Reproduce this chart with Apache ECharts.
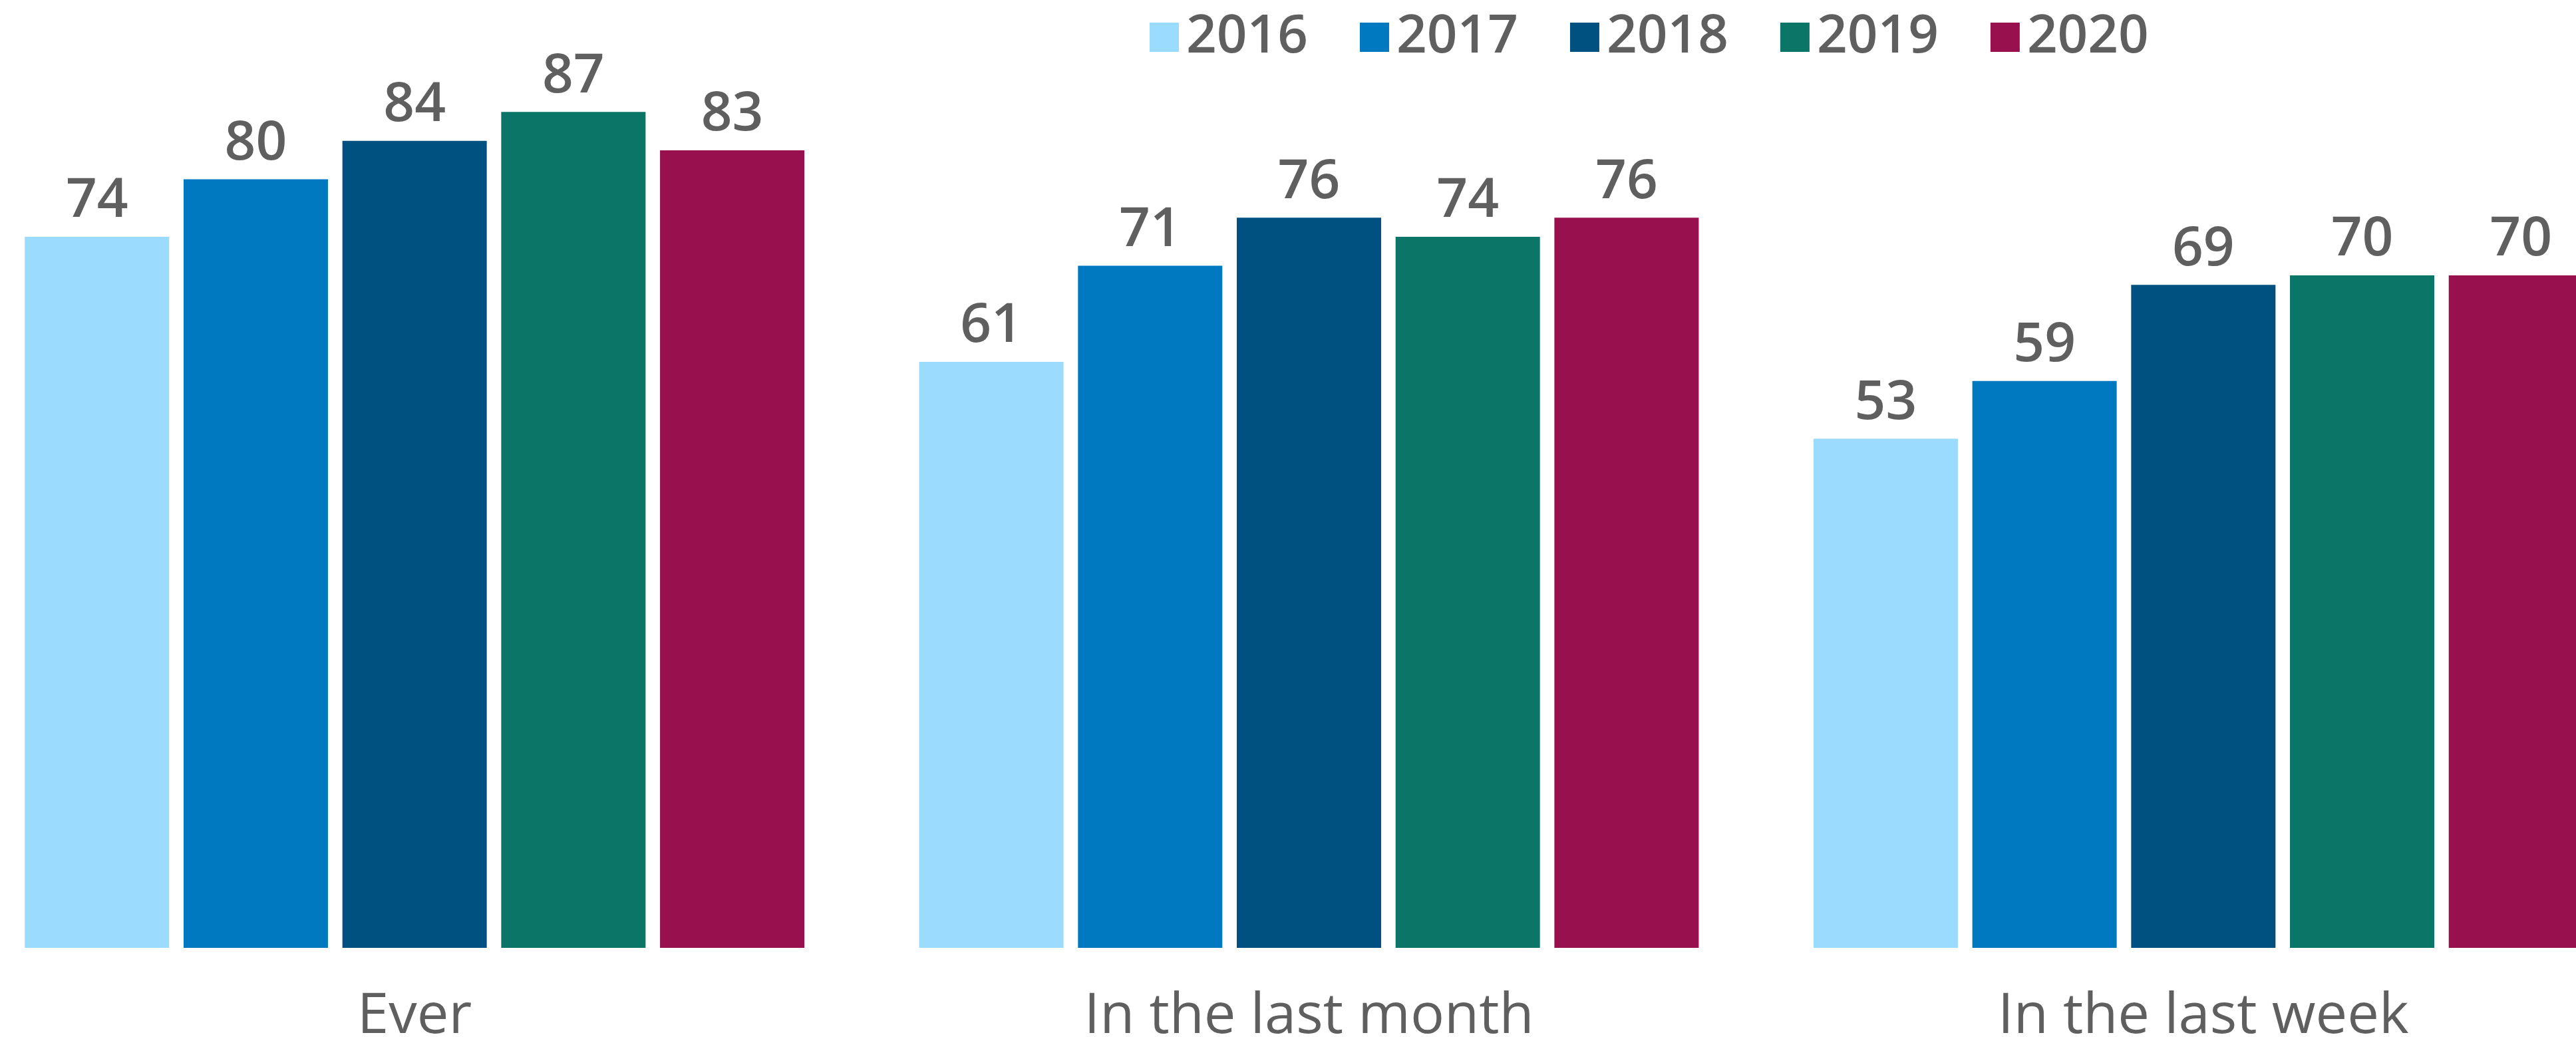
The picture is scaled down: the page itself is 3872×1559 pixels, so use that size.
<!DOCTYPE html>
<html>
<head>
<meta charset="utf-8">
<script src="https://cdn.jsdelivr.net/npm/echarts@6/dist/echarts.min.js"></script>
<style>html,body{margin:0;padding:0;background:#fff;overflow:hidden;width:3872px;height:1559px;}#c{position:absolute;left:-49px;top:0;width:4033px;height:1559px;}</style>
</head>
<body>
<div id="c"></div>
<script>
const categories = ["Ever", "In the last month", "In the last week"];
const years = ["2016", "2017", "2018", "2019", "2020"];
const v2016 = [74, 61, 53];
const v2017 = [80, 71, 59];
const v2018 = [84, 76, 69];
const v2019 = [87, 74, 70];
const v2020 = [83, 76, 70];
const seriesValues = [v2016, v2017, v2018, v2019, v2020];
const colors = ["#9BDBFD", "#0079C1", "#00517F", "#0B7567", "#99104F"];

const textColor = "#5F5F5F";
const fontFam = "'Open Sans', 'Noto Sans', sans-serif";

const chart = echarts.init(document.getElementById('c'), null, {renderer: 'canvas'});
chart.setOption({
  animation: false,
  backgroundColor: '#ffffff',
  legend: {
    data: years,
    left: 1777,
    top: 16,
    padding: 0,
    itemWidth: 44,
    itemHeight: 44,
    itemGap: 78,
    icon: 'rect',
    textStyle: {color: textColor, fontSize: 80, fontWeight: 600, fontFamily: fontFam, lineHeight: 80, padding: [0, 0, 0, 6]}
  },
  grid: {left: 0, right: 0, top: 125, bottom: 134, containLabel: false, outerBoundsMode: 'none'},
  xAxis: {
    type: 'category',
    data: categories,
    axisLine: {show: false},
    axisTick: {show: false},
    axisLabel: {color: textColor, fontSize: 85, fontFamily: fontFam, margin: 61, fontWeight: 400}
  },
  yAxis: {
    type: 'value', min: 0, max: 90, show: false,
    splitLine: {show: false}
  },
  series: years.map((y, i) => ({
    name: y,
    type: 'bar',
    data: seriesValues[i],
    barWidth: 217,
    barGap: '10%',
    itemStyle: {color: colors[i]},
    label: {
      show: true, position: 'top', distance: 12,
      color: textColor, fontSize: 82, fontWeight: 600, fontFamily: fontFam
    }
  }))
});
</script>
</body>
</html>
